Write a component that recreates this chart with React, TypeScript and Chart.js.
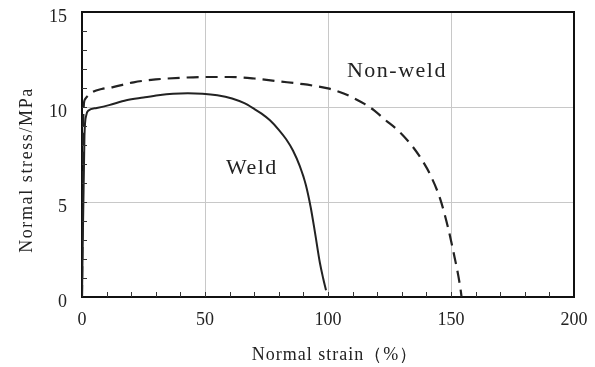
import React, { useEffect, useRef } from "react";
import { Chart, registerables } from "chart.js";

Chart.register(...registerables);

// ---- Data ----
const weldStrain = [0, 1.0, 1.8, 2.5, 6, 11, 18, 25, 31, 37, 43, 49, 55, 61, 66, 70, 73, 76.4, 80, 83, 85.8, 88.5, 91, 93, 94.7, 96.7, 98, 99.2];
const weldStress = [0, 8.5, 9.6, 9.8, 9.95, 10.1, 10.35, 10.5, 10.62, 10.7, 10.72, 10.7, 10.62, 10.45, 10.2, 9.9, 9.65, 9.3, 8.8, 8.3, 7.7, 6.9, 5.9, 4.7, 3.4, 1.8, 1.0, 0.35];

const nonWeldStrain = [0, 0.6, 1.2, 2.5, 4.5, 8, 12.6, 21, 30, 42, 50, 60, 70, 80, 90, 95, 100, 105, 110, 115, 119, 123, 129, 134.5, 138.5, 141.5, 145.5, 148.8, 151.6, 153, 154, 154.3];
const nonWeldStress = [0, 9.8, 10.4, 10.6, 10.8, 10.95, 11.05, 11.3, 11.45, 11.55, 11.58, 11.58, 11.5, 11.35, 11.2, 11.1, 10.98, 10.78, 10.5, 10.15, 9.8, 9.35, 8.7, 7.9, 7.15, 6.45, 5.2, 3.65, 2.0, 1.1, 0.3, 0];

const seriesNames = ["Weld", "Non-weld"];
const xTickValues = [0, 50, 100, 150, 200];
const yTickValues = [0, 5, 10, 15];
const xTitle = "Normal strain（%）";
const yTitle = "Normal stress/MPa";

// annotation anchors in data units
const weldLabelAt = [58.5, 6.5];
const nonWeldLabelAt = [107.7, 11.58];

const FONT = "'Liberation Serif', 'Times New Roman', serif";

const decorPlugin = {
  id: "decor",
  afterDraw(chart: any) {
    const { ctx, chartArea, scales } = chart;
    const xs = scales.x;
    const ys = scales.y;
    ctx.save();
    // minor ticks (inward)
    ctx.strokeStyle = "#333";
    ctx.lineWidth = 1;
    ctx.beginPath();
    for (let v = 10; v < 200; v += 10) {
      const px = Math.round(xs.getPixelForValue(v)) + 0.5;
      ctx.moveTo(px, chartArea.bottom);
      ctx.lineTo(px, chartArea.bottom - 5);
    }
    for (let v = 1; v < 15; v += 1) {
      const py = Math.round(ys.getPixelForValue(v)) + 0.5;
      ctx.moveTo(chartArea.left, py);
      ctx.lineTo(chartArea.left + 5, py);
    }
    ctx.stroke();
    // top and right borders
    ctx.strokeStyle = "#111";
    ctx.lineWidth = 2;
    ctx.beginPath();
    ctx.moveTo(chartArea.left, chartArea.top);
    ctx.lineTo(chartArea.right, chartArea.top);
    ctx.lineTo(chartArea.right, chartArea.bottom);
    ctx.stroke();

    // series labels
    ctx.fillStyle = "#222";
    ctx.font = `22px ${FONT}`;
    (ctx as any).letterSpacing = "1.5px";
    ctx.textAlign = "left";
    ctx.textBaseline = "alphabetic";
    ctx.fillText(seriesNames[1], xs.getPixelForValue(nonWeldLabelAt[0]), ys.getPixelForValue(nonWeldLabelAt[1]));
    ctx.fillText(seriesNames[0], xs.getPixelForValue(weldLabelAt[0]), ys.getPixelForValue(weldLabelAt[1]));

    // axis titles
    ctx.font = `18px ${FONT}`;
    (ctx as any).letterSpacing = "1px";
    ctx.textAlign = "center";
    ctx.fillText(xTitle, (chartArea.left + chartArea.right) / 2 + 7, 360);
    (ctx as any).letterSpacing = "1.6px";
    ctx.translate(32, 170);
    ctx.rotate(-Math.PI / 2);
    ctx.fillText(yTitle, 0, 0);
    ctx.restore();
  },
};

export default function App() {
  const ref = useRef<HTMLCanvasElement | null>(null);
  useEffect(() => {
    document.body.style.margin = "0";
    const canvas = ref.current;
    if (!canvas) return;
    const chart = new Chart(canvas, {
      type: "scatter",
      data: {
        datasets: [
          {
            label: seriesNames[0],
            data: weldStrain.map((x, i) => ({ x, y: weldStress[i] })),
            showLine: true,
            borderColor: "#222",
            borderWidth: 2,
            pointRadius: 0,
            cubicInterpolationMode: "monotone",
          },
          {
            label: seriesNames[1],
            data: nonWeldStrain.map((x, i) => ({ x, y: nonWeldStress[i] })),
            showLine: true,
            borderColor: "#222",
            borderWidth: 2.2,
            borderDash: [12, 7],
            pointRadius: 0,
            cubicInterpolationMode: "monotone",
          },
        ],
      },
      options: {
        responsive: false,
        animation: false,
        layout: { padding: { top: 12, right: 21, left: 0, bottom: 0 } },
        plugins: { legend: { display: false }, tooltip: { enabled: false } },
        scales: {
          x: {
            type: "linear",
            min: 0,
            max: 200,
            afterBuildTicks: (s: any) => {
              s.ticks = xTickValues.map((v) => ({ value: v }));
            },
            ticks: { font: { family: FONT, size: 18 }, color: "#222", padding: 12, maxRotation: 0 },
            grid: { color: "#c8c8c8", lineWidth: 1, drawTicks: false },
            border: { display: true, color: "#111", width: 2 },
            afterFit: (s: any) => {
              s.height = 70;
              s.paddingLeft = 0;
              s.paddingRight = 0;
            },
          },
          y: {
            type: "linear",
            min: 0,
            max: 15,
            afterBuildTicks: (s: any) => {
              s.ticks = yTickValues.map((v) => ({ value: v }));
            },
            ticks: { font: { family: FONT, size: 18 }, color: "#222", padding: 15, labelOffset: 5 },
            grid: { color: "#c8c8c8", lineWidth: 1, drawTicks: false },
            border: { display: true, color: "#111", width: 2 },
            afterFit: (s: any) => {
              s.width = 82;
              s.paddingTop = 0;
              s.paddingBottom = 0;
            },
          },
        },
      },
      plugins: [decorPlugin],
    } as any);
    return () => chart.destroy();
  }, []);
  return (
    <div style={{ position: "absolute", left: 0, top: 0, width: 595, height: 367, background: "#fff" }}>
      <canvas ref={ref} width={595} height={367} style={{ display: "block" }} />
    </div>
  );
}
